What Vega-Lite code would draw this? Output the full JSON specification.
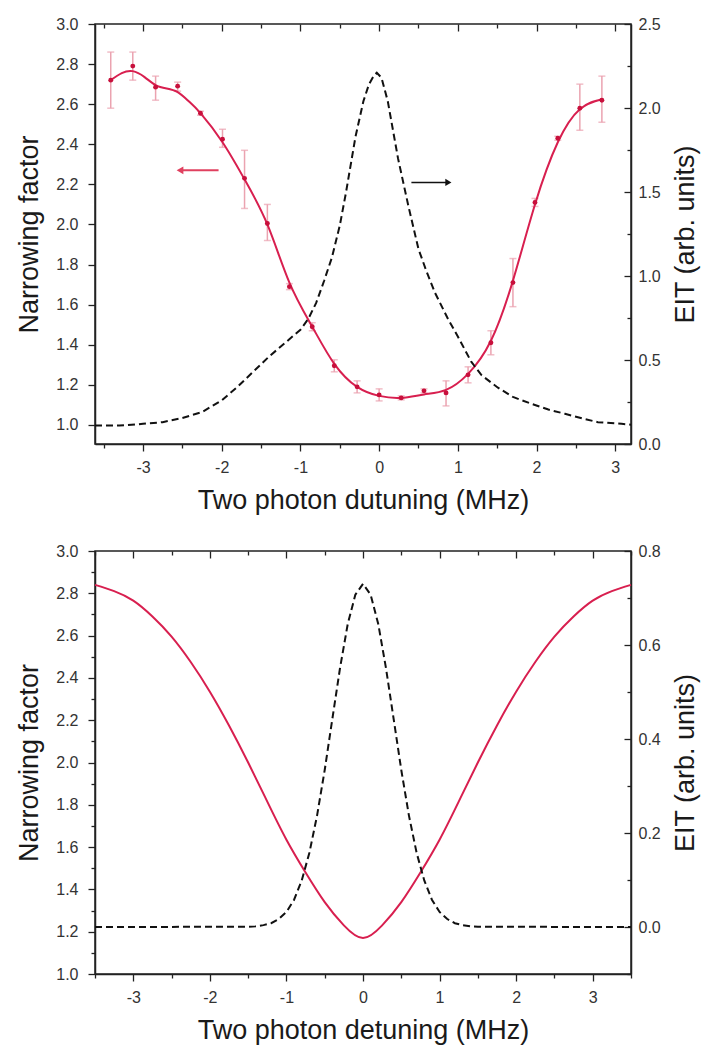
{
  "$schema": "https://vega.github.io/schema/vega-lite/v6.json",
  "padding": {"left": 15, "top": 15, "right": 2, "bottom": 2},
  "spacing": 28,
  "datasets": {
    "top_pts": [
      {"x": -3.41, "y": 2.72, "lo": 2.58, "hi": 2.86},
      {"x": -3.13, "y": 2.79, "lo": 2.72, "hi": 2.86},
      {"x": -2.84, "y": 2.685, "lo": 2.62, "hi": 2.74},
      {"x": -2.56, "y": 2.69, "lo": 2.665, "hi": 2.71},
      {"x": -2.27, "y": 2.555, "lo": 2.545, "hi": 2.565},
      {"x": -1.99, "y": 2.425, "lo": 2.385, "hi": 2.475},
      {"x": -1.71, "y": 2.23, "lo": 2.08, "hi": 2.37},
      {"x": -1.42, "y": 2.005, "lo": 1.92, "hi": 2.1},
      {"x": -1.14, "y": 1.69, "lo": 1.675, "hi": 1.705},
      {"x": -0.85, "y": 1.49, "lo": 1.47, "hi": 1.51},
      {"x": -0.57, "y": 1.295, "lo": 1.265, "hi": 1.325},
      {"x": -0.28, "y": 1.19, "lo": 1.16, "hi": 1.22},
      {"x": 0, "y": 1.15, "lo": 1.12, "hi": 1.18},
      {"x": 0.28, "y": 1.135, "lo": 1.125, "hi": 1.145},
      {"x": 0.57, "y": 1.17, "lo": 1.16, "hi": 1.18},
      {"x": 0.85, "y": 1.16, "lo": 1.095, "hi": 1.22},
      {"x": 1.13, "y": 1.25, "lo": 1.21, "hi": 1.29},
      {"x": 1.42, "y": 1.41, "lo": 1.35, "hi": 1.47},
      {"x": 1.7, "y": 1.71, "lo": 1.59, "hi": 1.83},
      {"x": 1.98, "y": 2.11, "lo": 2.09, "hi": 2.13},
      {"x": 2.27, "y": 2.43, "lo": 2.42, "hi": 2.44},
      {"x": 2.55, "y": 2.58, "lo": 2.47, "hi": 2.7},
      {"x": 2.83, "y": 2.62, "lo": 2.51, "hi": 2.74}
    ],
    "top_fit": [
      {"x": -3.41, "y": 2.72}, {"x": -3.27, "y": 2.755}, {"x": -3.13, "y": 2.765},
      {"x": -2.98, "y": 2.735}, {"x": -2.84, "y": 2.695}, {"x": -2.7, "y": 2.678},
      {"x": -2.56, "y": 2.66}, {"x": -2.42, "y": 2.615}, {"x": -2.27, "y": 2.555},
      {"x": -1.99, "y": 2.41}, {"x": -1.71, "y": 2.225}, {"x": -1.42, "y": 2.0},
      {"x": -1.14, "y": 1.71}, {"x": -0.85, "y": 1.49}, {"x": -0.57, "y": 1.305},
      {"x": -0.28, "y": 1.19}, {"x": 0, "y": 1.145}, {"x": 0.28, "y": 1.135},
      {"x": 0.57, "y": 1.152}, {"x": 0.85, "y": 1.175}, {"x": 1.13, "y": 1.255},
      {"x": 1.42, "y": 1.42}, {"x": 1.7, "y": 1.72}, {"x": 1.98, "y": 2.1},
      {"x": 2.27, "y": 2.41}, {"x": 2.55, "y": 2.575}, {"x": 2.83, "y": 2.625}
    ],
    "top_eit": [
      {"x": -3.61, "y": 0.11}, {"x": -3.3, "y": 0.11}, {"x": -3.0, "y": 0.12},
      {"x": -2.75, "y": 0.13}, {"x": -2.5, "y": 0.155}, {"x": -2.25, "y": 0.19},
      {"x": -2.0, "y": 0.26}, {"x": -1.8, "y": 0.34}, {"x": -1.6, "y": 0.43},
      {"x": -1.4, "y": 0.52}, {"x": -1.2, "y": 0.6}, {"x": -1.0, "y": 0.68},
      {"x": -0.9, "y": 0.745}, {"x": -0.8, "y": 0.84}, {"x": -0.7, "y": 0.97},
      {"x": -0.6, "y": 1.11}, {"x": -0.5, "y": 1.3}, {"x": -0.42, "y": 1.5},
      {"x": -0.3, "y": 1.83}, {"x": -0.2, "y": 2.04}, {"x": -0.13, "y": 2.14},
      {"x": -0.07, "y": 2.19}, {"x": -0.03, "y": 2.21}, {"x": 0.03, "y": 2.18},
      {"x": 0.11, "y": 2.04}, {"x": 0.24, "y": 1.7}, {"x": 0.37, "y": 1.42},
      {"x": 0.5, "y": 1.16}, {"x": 0.6, "y": 1.03}, {"x": 0.71, "y": 0.9},
      {"x": 0.88, "y": 0.74}, {"x": 1.0, "y": 0.64}, {"x": 1.17, "y": 0.49},
      {"x": 1.3, "y": 0.41}, {"x": 1.51, "y": 0.335}, {"x": 1.7, "y": 0.28},
      {"x": 1.93, "y": 0.24}, {"x": 2.15, "y": 0.205}, {"x": 2.36, "y": 0.18},
      {"x": 2.6, "y": 0.15}, {"x": 2.78, "y": 0.13}, {"x": 3.08, "y": 0.12},
      {"x": 3.2, "y": 0.115}
    ],
    "arrow_left": [{"tail": -2.04, "head": -2.53, "y": 2.27}],
    "arrow_right": [{"tail": 0.41, "head": 0.88, "y": 2.21}],
    "bot_nf": [
      {"x": -3.5, "y": 2.84}, {"x": -3.25, "y": 2.81}, {"x": -3.0, "y": 2.765},
      {"x": -2.75, "y": 2.69}, {"x": -2.5, "y": 2.595}, {"x": -2.25, "y": 2.475},
      {"x": -2.0, "y": 2.335}, {"x": -1.75, "y": 2.175}, {"x": -1.5, "y": 2.0},
      {"x": -1.25, "y": 1.815}, {"x": -1.0, "y": 1.635}, {"x": -0.75, "y": 1.48},
      {"x": -0.5, "y": 1.34}, {"x": -0.25, "y": 1.23}, {"x": 0, "y": 1.17},
      {"x": 0.25, "y": 1.23}, {"x": 0.5, "y": 1.34}, {"x": 0.75, "y": 1.48},
      {"x": 1.0, "y": 1.635}, {"x": 1.25, "y": 1.815}, {"x": 1.5, "y": 2.0},
      {"x": 1.75, "y": 2.175}, {"x": 2.0, "y": 2.335}, {"x": 2.25, "y": 2.475},
      {"x": 2.5, "y": 2.595}, {"x": 2.75, "y": 2.69}, {"x": 3.0, "y": 2.765},
      {"x": 3.25, "y": 2.81}, {"x": 3.5, "y": 2.84}
    ],
    "bot_eit": [
      {"x": -3.5, "y": 0}, {"x": -1.5, "y": 0.0005}, {"x": -1.4, "y": 0.0015},
      {"x": -1.3, "y": 0.004}, {"x": -1.2, "y": 0.008}, {"x": -1.1, "y": 0.017},
      {"x": -1.0, "y": 0.032}, {"x": -0.9, "y": 0.058}, {"x": -0.8, "y": 0.099},
      {"x": -0.7, "y": 0.158}, {"x": -0.6, "y": 0.237}, {"x": -0.5, "y": 0.334},
      {"x": -0.4, "y": 0.443}, {"x": -0.3, "y": 0.551}, {"x": -0.2, "y": 0.644},
      {"x": -0.1, "y": 0.707}, {"x": 0, "y": 0.73}, {"x": 0.1, "y": 0.707},
      {"x": 0.2, "y": 0.644}, {"x": 0.3, "y": 0.551}, {"x": 0.4, "y": 0.443},
      {"x": 0.5, "y": 0.334}, {"x": 0.6, "y": 0.237}, {"x": 0.7, "y": 0.158},
      {"x": 0.8, "y": 0.099}, {"x": 0.9, "y": 0.058}, {"x": 1.0, "y": 0.032},
      {"x": 1.1, "y": 0.017}, {"x": 1.2, "y": 0.008}, {"x": 1.3, "y": 0.004},
      {"x": 1.4, "y": 0.0015}, {"x": 1.5, "y": 0.0005}, {"x": 3.5, "y": 0}
    ]
  },
  "vconcat": [
    {
      "width": 536,
      "height": 420,
      "layer": [
        {
          "layer": [
            {
              "data": {"name": "top_pts"},
              "mark": {"type": "errorbar", "ticks": {"size": 7}, "color": "#eba3b0", "thickness": 1.5},
              "encoding": {
                "x": {"field": "x", "type": "quantitative", "scale": {"domain": [-3.61, 3.2], "nice": false, "zero": false},
                  "axis": {"title": "Two photon dutuning (MHz)", "values": [-3.5,-3,-2.5,-2,-1.5,-1,-0.5,0,0.5,1,1.5,2,2.5,3],
                    "labelExpr": "datum.value % 1 === 0 ? '' + datum.value : ''",
                    "tickSize": 7,
                    "tickDash": {"condition": {"test": "datum.value % 1 !== 0", "value": [4, 30]}, "value": []},
                    "labelPadding": 8, "titlePadding": 12}},
                "y": {"field": "lo", "type": "quantitative", "scale": {"domain": [0.905, 3.0], "nice": false, "zero": false},
                  "axis": {"title": "Narrowing factor", "values": [1.0,1.1,1.2,1.3,1.4,1.5,1.6,1.7,1.8,1.9,2.0,2.1,2.2,2.3,2.4,2.5,2.6,2.7,2.8,2.9,3.0],
                    "labelExpr": "round(datum.value*10) % 2 === 0 ? format(datum.value, '.1f') : ''",
                    "tickSize": 7,
                    "tickDash": {"condition": {"test": "round(datum.value*10) % 2 !== 0", "value": [4, 30]}, "value": []},
                    "labelPadding": 10, "titlePadding": 12}},
                "y2": {"field": "hi"}
              }
            },
            {
              "data": {"name": "top_fit"},
              "mark": {"type": "line", "color": "#d81f4f", "strokeWidth": 2, "interpolate": "natural"},
              "encoding": {
                "x": {"field": "x", "type": "quantitative"},
                "y": {"field": "y", "type": "quantitative"}
              }
            },
            {
              "data": {"name": "top_pts"},
              "mark": {"type": "circle", "color": "#c8103c", "size": 24, "opacity": 1},
              "encoding": {
                "x": {"field": "x", "type": "quantitative"},
                "y": {"field": "y", "type": "quantitative"}
              }
            },
            {
              "data": {"name": "arrow_left"},
              "mark": {"type": "rule", "color": "#e0405f", "strokeWidth": 2},
              "encoding": {
                "x": {"field": "head", "type": "quantitative"},
                "x2": {"field": "tail"},
                "y": {"field": "y", "type": "quantitative"}
              }
            },
            {
              "data": {"name": "arrow_left"},
              "mark": {"type": "point", "shape": "triangle-left", "filled": true, "color": "#e0405f", "size": 60, "opacity": 1},
              "encoding": {
                "x": {"field": "head", "type": "quantitative"},
                "y": {"field": "y", "type": "quantitative"}
              }
            },
            {
              "data": {"name": "arrow_right"},
              "mark": {"type": "rule", "color": "#111111", "strokeWidth": 1.5},
              "encoding": {
                "x": {"field": "tail", "type": "quantitative"},
                "x2": {"field": "head"},
                "y": {"field": "y", "type": "quantitative"}
              }
            },
            {
              "data": {"name": "arrow_right"},
              "mark": {"type": "point", "shape": "triangle-right", "filled": true, "color": "#111111", "size": 50, "opacity": 1},
              "encoding": {
                "x": {"field": "head", "type": "quantitative"},
                "y": {"field": "y", "type": "quantitative"}
              }
            }
          ]
        },
        {
          "data": {"name": "top_eit"},
          "mark": {"type": "line", "color": "#111111", "strokeWidth": 2, "strokeDash": [7, 4]},
          "encoding": {
            "x": {"field": "x", "type": "quantitative", "scale": {"domain": [-3.61, 3.2], "nice": false, "zero": false},
              "axis": {"orient": "top", "labels": false, "domain": false, "title": null,
                "values": [-3.5,-3,-2.5,-2,-1.5,-1,-0.5,0,0.5,1,1.5,2,2.5,3],
                "tickSize": -7,
                "tickDash": {"condition": {"test": "datum.value % 1 !== 0", "value": [4, 30]}, "value": []}}},
            "y": {"field": "y", "type": "quantitative", "scale": {"domain": [0, 2.5], "nice": false, "zero": false},
              "axis": {"orient": "right", "title": "EIT (arb. units)", "titleAngle": 270, "titleBaseline": "top",
                "values": [0,0.25,0.5,0.75,1.0,1.25,1.5,1.75,2.0,2.25,2.5],
                "labelExpr": "round(datum.value*4) % 2 === 0 ? format(datum.value, '.1f') : ''",
                "tickSize": -7,
                "tickDash": {"condition": {"test": "round(datum.value*4) % 2 !== 0", "value": [4, 30]}, "value": []},
                "labelPadding": 14, "titlePadding": 12}}
          }
        }
      ],
      "resolve": {"scale": {"y": "independent"}, "axis": {"x": "independent"}}
    },
    {
      "width": 536,
      "height": 423,
      "layer": [
        {
          "data": {"name": "bot_nf"},
          "mark": {"type": "line", "color": "#d81f4f", "strokeWidth": 2, "interpolate": "natural"},
          "encoding": {
            "x": {"field": "x", "type": "quantitative", "scale": {"domain": [-3.5, 3.5], "nice": false, "zero": false},
              "axis": {"title": "Two photon detuning (MHz)", "values": [-3.5,-3,-2.5,-2,-1.5,-1,-0.5,0,0.5,1,1.5,2,2.5,3,3.5],
                "labelExpr": "datum.value % 1 === 0 ? '' + datum.value : ''",
                "tickSize": 7,
                "tickDash": {"condition": {"test": "datum.value % 1 !== 0", "value": [4, 30]}, "value": []},
                "labelPadding": 8, "titlePadding": 12}},
            "y": {"field": "y", "type": "quantitative", "scale": {"domain": [1.0, 3.0], "nice": false, "zero": false},
              "axis": {"title": "Narrowing factor", "values": [1.0,1.1,1.2,1.3,1.4,1.5,1.6,1.7,1.8,1.9,2.0,2.1,2.2,2.3,2.4,2.5,2.6,2.7,2.8,2.9,3.0],
                "labelExpr": "round(datum.value*10) % 2 === 0 ? format(datum.value, '.1f') : ''",
                "tickSize": 7,
                "tickDash": {"condition": {"test": "round(datum.value*10) % 2 !== 0", "value": [4, 30]}, "value": []},
                "labelPadding": 10, "titlePadding": 12}}
          }
        },
        {
          "data": {"name": "bot_eit"},
          "mark": {"type": "line", "color": "#111111", "strokeWidth": 2, "strokeDash": [7, 4]},
          "encoding": {
            "x": {"field": "x", "type": "quantitative", "scale": {"domain": [-3.5, 3.5], "nice": false, "zero": false},
              "axis": {"orient": "top", "labels": false, "domain": false, "title": null,
                "values": [-3.5,-3,-2.5,-2,-1.5,-1,-0.5,0,0.5,1,1.5,2,2.5,3,3.5],
                "tickSize": -7,
                "tickDash": {"condition": {"test": "datum.value % 1 !== 0", "value": [4, 30]}, "value": []}}},
            "y": {"field": "y", "type": "quantitative", "scale": {"domain": [-0.1, 0.8], "nice": false, "zero": false},
              "axis": {"orient": "right", "title": "EIT (arb. units)", "titleAngle": 270, "titleBaseline": "top",
                "values": [-0.1,0,0.1,0.2,0.3,0.4,0.5,0.6,0.7,0.8],
                "labelExpr": "round(datum.value*10) % 2 === 0 ? format(datum.value, '.1f') : ''",
                "tickSize": -7,
                "tickDash": {"condition": {"test": "round(datum.value*10) % 2 !== 0", "value": [4, 30]}, "value": []},
                "labelPadding": 14, "titlePadding": 12}}
          }
        }
      ],
      "resolve": {"scale": {"y": "independent"}, "axis": {"x": "independent"}}
    }
  ],
  "config": {
    "font": "Liberation Sans",
    "view": {"stroke": "#222222", "strokeWidth": 1.5},
    "axis": {
      "grid": false,
      "domainColor": "#222222",
      "domainWidth": 1.5,
      "tickColor": "#222222",
      "tickWidth": 1.3,
      "labelFont": "Liberation Sans",
      "labelFontSize": 16,
      "labelColor": "#333333",
      "titleFont": "Liberation Sans",
      "titleFontSize": 27,
      "titleFontWeight": "normal",
      "titleColor": "#1a1a1a"
    }
  }
}
